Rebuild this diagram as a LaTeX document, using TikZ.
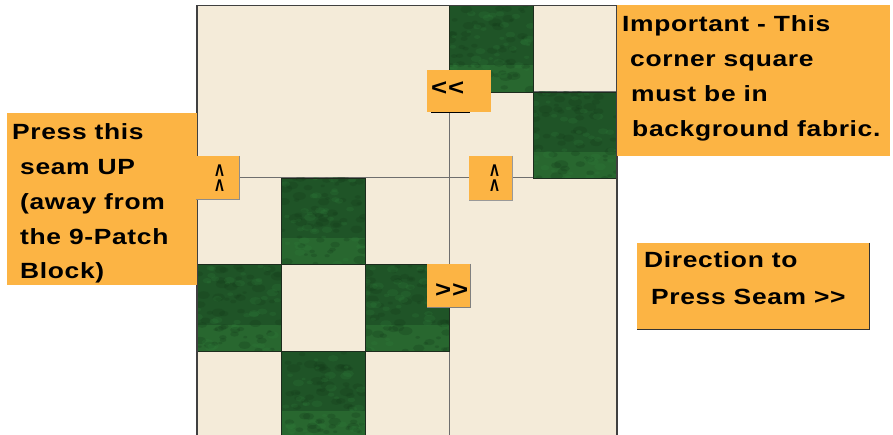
\documentclass[tikz,border=0pt]{standalone}
\usepackage{fontspec}
\newfontfamily\heavy{Liberation Sans Bold}[FakeStretch=1.2, LetterSpace=3]
\newfontfamily\chevfont{DejaVu Sans Bold}
\definecolor{cream}{HTML}{F4EBD9}
\definecolor{gdark}{HTML}{1F5427}
\definecolor{gmid}{HTML}{143A1A}
\definecolor{gbright}{HTML}{2F7E3A}
\definecolor{glight}{HTML}{28672F}
\definecolor{gedge}{HTML}{1C2C1D}
\definecolor{seam}{HTML}{6E6E6E}
\definecolor{note}{HTML}{FCB444}
\newcommand\greensq[2]{%
  \begin{scope}
  \clip (#1,#2) rectangle ++(84,86.5);
  \fill[gdark] (#1,#2) rectangle ++(84,60);
  \fill[glight] (#1,#2+60) rectangle ++(84,26.5);
  \foreach \k in {1,...,60}{%
    \pgfmathsetmacro\rx{#1+84*rnd}%
    \pgfmathsetmacro\ry{#2+86.5*rnd}%
    \pgfmathsetmacro\rr{2+5*rnd}%
    \fill[gmid,opacity=0.25] (\rx,\ry) ellipse ({\rr} and {0.6*\rr});
  }
  \foreach \k in {1,...,40}{%
    \pgfmathsetmacro\rx{#1+84*rnd}%
    \pgfmathsetmacro\ry{#2+86.5*rnd}%
    \pgfmathsetmacro\rr{2+4*rnd}%
    \fill[gbright,opacity=0.22] (\rx,\ry) ellipse ({\rr} and {0.6*\rr});
  }
  \end{scope}
  \draw[gedge,line width=0.9pt] (#1,#2) rectangle ++(84,86.5);
}
\newcommand\chvglyph{\scalebox{0.68}[1]{Λ}}
\newcommand\chvpair{\vbox{\baselineskip=14.5pt\lineskiplimit=-100pt\lineskip=0pt\hbox{\chvglyph}\hbox{\chvglyph}}}
\tikzset{
  notebox/.style={fill=note,draw=none},
  lbl/.style={inner sep=0pt,anchor=base west,font=\heavy\fontsize{22}{22}\selectfont},
  arr/.style={inner sep=0pt,anchor=base west,font=\heavy\fontsize{23}{23}\selectfont},
  chev/.style={inner sep=0pt,anchor=north,font=\chevfont\fontsize{16}{16}\selectfont},
  seamline/.style={seam,line width=1pt},
}
\begin{document}
\begin{tikzpicture}[x=1pt,y=-1pt]
\pgfmathsetseed{11}
\useasboundingbox (0,0) rectangle (893,435);
\fill[white] (0,0) rectangle (893,435);
\begin{scope}
\clip (0,0) rectangle (893,435);
% quilt background
\fill[cream] (197,5.5) rectangle (617,440);
% seams
\draw[seamline] (197,178) -- (617,178);
\draw[seamline] (449,5.5) -- (449,440);
\draw[seamline] (533,5.5) -- (533,178);
\draw[seamline] (449,92) -- (617,92);
\draw[seamline] (281,178) -- (281,440);
\draw[seamline] (365,178) -- (365,440);
\draw[seamline] (197,264.5) -- (449,264.5);
\draw[seamline] (197,351) -- (449,351);
% green squares
\greensq{449}{5.5}
\greensq{533}{92}
\greensq{281}{178}
\greensq{197}{264.5}
\greensq{365}{264.5}
\greensq{281}{351}
% outer border
\draw[black!75,line width=1.2pt] (197,440) -- (197,5.5) -- (617,5.5) -- (617,440);
\end{scope}
% note boxes
\path[notebox] (7,113) rectangle (197,285);
\path[notebox] (196,156) rectangle (239,199);
\draw[black!45,line width=0.8pt] (239,156) -- (239,199) -- (196,199);
\path[notebox] (427,70) rectangle (491,112);
\draw[black,line width=1pt] (431,112.5) -- (470,112.5);
\path[notebox] (469,156) rectangle (512,200);
\draw[black!40,line width=0.8pt] (512,156) -- (512,200) -- (469,200);
\path[notebox] (427,264) rectangle (470,307);
\draw[black!50,line width=0.8pt] (470,264) -- (470,307) -- (427,307);
\path[notebox] (617,5) rectangle (890,156);
\path[notebox] (637,243) rectangle (869,329);
\draw[black!80,line width=0.8pt] (869,243) -- (869,329) -- (637,329);
% texts
\node[lbl] (l1) at (12,140) {Press this};
\node[lbl] (l2) at (20,175) {seam UP};
\node[lbl] (l3) at (20,210) {(away from};
\node[lbl] (l4) at (20,245) {the 9-Patch};
\node[lbl] (l5) at (20,279) {Block)};
\node[lbl] (i1) at (622,32) {Important - This};
\node[lbl] (i2) at (630,67) {corner square};
\node[lbl] (i3) at (631,102) {must be in};
\node[lbl] (i4) at (632,137) {background fabric.};
\node[lbl] (d1) at (644,268) {Direction to};
\node[lbl] (d2) at (651,304) {Press Seam >>};
\node[arr] (ll) at (431,96) {<<};
\node[arr] (rr) at (435,298) {>>};
\node[chev] (cl) at (219.5,165) {\chvpair};
\node[chev] (cr) at (494.5,165) {\chvpair};
\end{tikzpicture}
\end{document}
